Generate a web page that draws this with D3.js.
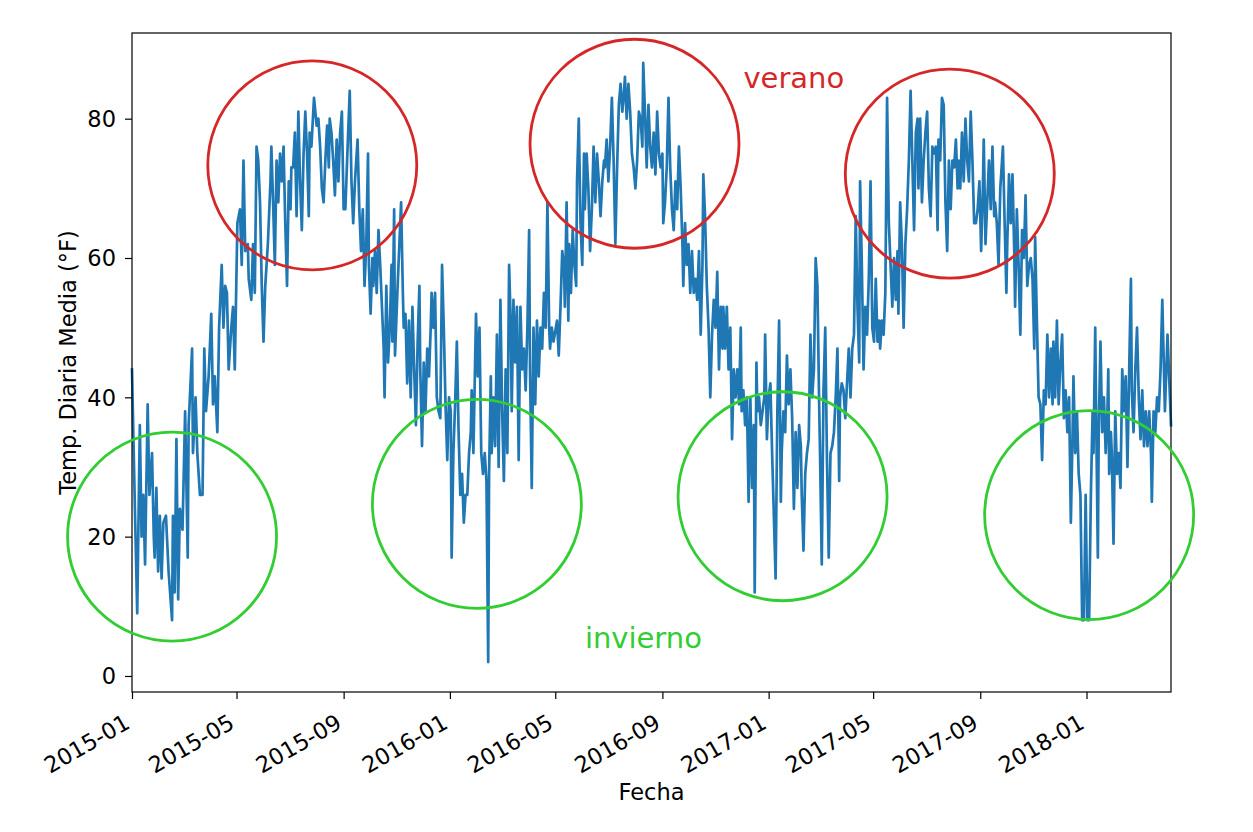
<!DOCTYPE html>
<html>
<head>
<meta charset="utf-8">
<script src="https://cdn.jsdelivr.net/npm/d3@7"></script>
<style>
  html, body { margin: 0; padding: 0; background: #ffffff; }
  svg { display: block; font-family: "DejaVu Sans", sans-serif; }
</style>
</head>
<body>
<svg id="chart" width="1253" height="832"></svg>
<script>
// ---------------- DATA ----------------
const startDate = "2015-01-01";
const endDate = "2018-04-08";
// readings: [days since startDate, mean daily temperature °F]
const tempReadings = [
 [0,44],[3,26],[6,9],[9,36],[11,20],[13,26],[15,16],[18,39],[20,26],[23,32],[25,20],[26,17],[28,27],[30,15],[32,23],[34,14],[36,22],[39,23],[42,15],[46,8],[47,23],[49,12],[51,34],[53,11],[55,24],[58,21],[61,38],[64,17],[65,36],[69,47],[70,32],[73,40],[75,32],[78,26],[81,26],[83,47],[85,38],[88,43],[91,52],[93,39],[95,43],[98,35],[100,50],[103,59],[105,50],[107,56],[109,55],[111,44],[114,50],[116,53],[118,44],[121,65],[124,67],[126,59],[128,74],[130,61],[133,62],[134,57],[137,54],[139,62],[141,55],[143,76],[145,74],[147,68],[149,56],[151,48],[153,56],[156,62],[159,71],[160,76],[162,68],[164,59],[166,74],[168,68],[170,75],[172,71],[174,76],[176,65],[178,56],[180,71],[182,67],[183,73],[185,73],[187,78],[189,66],[191,81],[193,71],[195,64],[197,75],[199,81],[201,75],[203,66],[204,78],[206,76],[209,83],[212,79],[214,80],[216,76],[218,70],[220,68],[222,74],[224,79],[226,73],[227,80],[229,78],[231,74],[233,69],[235,77],[237,71],[239,78],[241,81],[243,67],
 [245,67],[247,74],[250,84],[252,71],[254,65],[256,71],[259,77],[261,67],[263,61],[265,67],[267,56],[269,62],[271,75],[272,59],[274,52],[276,60],[277,56],[279,61],[281,55],[283,64],[285,59],[287,53],[289,47],[290,40],[292,56],[294,45],[296,50],[298,59],[299,48],[301,67],[302,46],[305,56],[307,62],[309,68],[311,55],[312,50],[314,52],[316,42],[318,51],[320,40],[322,53],[324,44],[326,36],[328,48],[330,56],[331,44],[333,33],[335,45],[337,38],[339,47],[341,43],[343,50],[344,55],[346,50],[348,55],[350,40],[352,38],[354,37],[356,59],[358,50],[360,39],[362,31],[364,40],[366,38],[367,17],[369,32],[371,39],[373,48],[375,35],[377,26],[379,29],[381,22],[383,26],[385,26],[387,32],[389,35],[390,41],[392,32],[395,52],[397,43],[399,50],[401,32],[403,29],[405,32],[407,28],[409,2],[410,29],[412,43],[413,32],[415,40],[417,33],[419,49],[421,30],[423,54],[425,38],[427,28],[429,44],[431,32],[433,59],[435,50],[436,38],[438,54],[440,45],[442,53],[444,31],[446,53],[448,44],[450,47],[452,41],[454,50],[456,64],[457,44],[459,27],[461,50],[463,39],[465,51],[467,43],[469,50],[471,47],[473,55],[475,50],[477,68],[479,50],[480,47],[482,50],[484,48],
 [488,51],[490,46],[492,53],[494,61],[496,59],[497,53],[499,68],[501,51],[502,62],[504,55],[506,64],[508,59],[510,56],[511,71],[513,80],[515,65],[517,59],[519,75],[520,67],[522,75],[524,70],[526,61],[528,67],[530,76],[532,68],[534,75],[536,71],[538,66],[540,71],[542,74],[543,73],[545,77],[547,71],[549,76],[551,83],[553,74],[555,62],[557,73],[559,82],[561,85],[563,81],[565,84],[566,86],[568,80],[570,85],[572,81],[574,75],[576,73],[578,70],[580,74],[582,81],[584,80],[586,76],[587,88],[589,81],[591,73],[593,82],[595,76],[597,73],[599,78],[601,72],[603,81],[605,75],[607,73],[609,75],[610,65],[612,68],[614,73],[616,83],[618,73],[620,67],[622,64],[624,71],[626,67],[628,76],[630,70],[632,62],[633,56],[635,65],[637,59],[639,62],[641,55],[643,61],[645,55],[647,57],[649,54],[651,61],[653,49],[655,59],[656,72],[658,66],[660,56],[662,50],[664,40],[666,49],[668,54],[670,50],[672,58],[674,44],[676,53],[678,47],[679,53],[681,47],[683,53],[685,44],[687,50],[689,34],[691,44],[693,40],[695,44],[697,39],[699,50],[700,38],[702,41],[704,36],[706,40],[708,25],[710,40],[712,27],[714,36],[715,12],[717,45],[718,38],[720,40],[722,36],[724,38],[726,40],[727,49],
 [729,34],[731,40],[733,42],[735,32],[737,23],[739,14],[741,38],[743,51],[744,39],[745,25],[746,32],[748,38],[750,35],[752,46],[754,39],[756,44],[758,37],[760,24],[762,35],[764,27],[766,36],[768,33],[769,26],[771,18],[773,29],[775,32],[777,34],[779,49],[781,40],[783,44],[785,60],[787,56],[789,39],[790,32],[792,16],[794,41],[796,50],[798,31],[800,17],[802,32],[804,33],[806,35],[808,40],[810,47],[812,28],[813,40],[815,42],[817,41],[819,37],[821,42],[823,47],[825,40],[827,47],[829,49],[831,66],[833,53],[835,45],[836,71],[838,59],[840,44],[842,53],[844,49],[846,57],[848,71],[850,50],[852,48],[854,57],[856,48],[858,51],[859,47],[861,51],[863,49],[865,55],[867,83],[869,65],[871,59],[873,53],[875,60],[877,54],[879,61],[880,52],[882,68],[884,62],[886,50],[888,62],[890,67],[892,74],[894,84],[896,74],[898,64],[900,78],[902,80],[903,70],[905,80],[907,68],[909,74],[911,78],[913,81],[915,70],[917,66],[919,76],[921,75],[923,76],[925,64],[926,77],[928,74],[930,83],[932,82],[934,68],[936,61],[938,74],[940,67],[942,74],[944,73],[946,77],[948,70],[949,74],[951,70],[953,78],[955,71],[957,80],[959,74],[961,71],[963,81],[965,74],[967,65],
 [969,65],[971,67],[973,71],[975,61],[977,70],[978,77],[980,62],[982,68],[984,74],[986,67],[988,76],[990,66],[991,68],[993,65],[995,59],[997,70],[1000,76],[1002,65],[1004,55],[1005,62],[1007,72],[1009,65],[1011,72],[1013,61],[1014,53],[1016,67],[1018,59],[1020,49],[1022,64],[1024,60],[1026,69],[1028,56],[1030,59],[1032,60],[1034,57],[1036,47],[1037,63],[1039,51],[1041,40],[1043,39],[1045,31],[1047,41],[1049,39],[1051,49],[1053,40],[1055,47],[1057,39],[1058,48],[1060,40],[1062,51],[1064,39],[1066,45],[1068,49],[1070,37],[1072,41],[1074,35],[1076,40],[1078,22],[1080,35],[1081,43],[1083,32],[1085,38],[1087,29],[1089,26],[1091,8],[1093,8],[1095,26],[1097,8],[1099,8],[1101,26],[1103,38],[1104,32],[1106,50],[1107,38],[1109,17],[1110,35],[1112,48],[1114,35],[1116,40],[1118,32],[1120,38],[1121,44],[1122,29],[1124,35],[1125,32],[1127,19],[1129,38],[1131,29],[1133,32],[1135,27],[1137,44],[1139,38],[1141,43],[1143,30],[1145,44],[1147,57],[1148,41],[1150,35],[1152,44],[1154,50],[1156,40],[1158,34],[1160,41],[1162,33],[1164,38],[1166,33],[1168,38],[1170,32],[1171,25],[1173,38],[1175,35],[1177,40],[1179,38],[1181,44],[1183,54],[1186,38],[1189,49],[1193,36]
];
// annotation circles: [days since startDate, centre temperature °F]
const summerCircles = [[207,73.3],[577,76.4],[939,72.1]];
const winterCircles = [[46,20.0],[396,24.7],[747,25.8],[1099,23.1]];
const circleRadiusF = 15;           // radius expressed in °F
const yTicks = [0, 20, 40, 60, 80];
const yDomain = [-2.3, 92.3];
const summerLabel = {text: "verano", day: 702, temp: 84.4};
const winterLabel = {text: "invierno", day: 520, temp: 4.0};
const xAxisTitle = "Fecha";
const yAxisTitle = "Temp. Diaria Media (°F)";

// ---------------- CHART ----------------
const W = 1253, H = 832;
const margin = {left: 132, right: W - 1171, top: 33, bottom: H - 692};
const svg = d3.select("#chart");

const t0 = new Date(startDate + "T00:00:00Z");
const dayToDate = d => new Date(t0.getTime() + d * 86400000);

const x = d3.scaleUtc()
  .domain([t0, new Date(endDate + "T00:00:00Z")])
  .range([margin.left, W - margin.right]);
const y = d3.scaleLinear().domain(yDomain).range([H - margin.bottom, margin.top]);

const lineGen = d3.line()
  .x(d => x(dayToDate(d[0])))
  .y(d => y(d[1]));

svg.append("path")
  .datum(tempReadings)
  .attr("d", lineGen)
  .attr("fill", "none")
  .attr("stroke", "#1f77b4")
  .attr("stroke-width", 2.7)
  .attr("stroke-linejoin", "round")
  .attr("stroke-linecap", "square");

// frame
svg.append("rect")
  .attr("x", margin.left).attr("y", margin.top)
  .attr("width", W - margin.left - margin.right)
  .attr("height", H - margin.top - margin.bottom)
  .attr("fill", "none").attr("stroke", "#000").attr("stroke-width", 1.2);

// axes
const fs = 22.5;
const yAxis = d3.axisLeft(y).tickValues(yTicks).tickSize(7).tickPadding(9);
const gy = svg.append("g").attr("transform", `translate(${margin.left},0)`).call(yAxis);
gy.select(".domain").remove();
gy.selectAll("line").attr("stroke", "#000").attr("stroke-width", 1.2);
gy.selectAll("text").attr("font-size", fs).attr("fill", "#000")
  .attr("font-family", "DejaVu Sans").attr("dy", "0.35em");

const xAxis = d3.axisBottom(x).ticks(d3.utcMonth.every(4)).tickFormat(d3.utcFormat("%Y-%m")).tickSize(7);
const gx = svg.append("g").attr("transform", `translate(0,${H - margin.bottom})`).call(xAxis);
gx.select(".domain").remove();
gx.selectAll("line").attr("stroke", "#000").attr("stroke-width", 1.2);
gx.selectAll("text")
  .attr("font-size", fs).attr("fill", "#000").attr("font-family", "DejaVu Sans")
  .attr("text-anchor", "end")
  .attr("y", 0).attr("dy", 0)
  .attr("transform", "translate(-1,35) rotate(-30)");

// axis titles
svg.append("text")
  .attr("x", (margin.left + W - margin.right) / 2).attr("y", 800)
  .attr("text-anchor", "middle").attr("font-size", fs).attr("fill", "#000")
  .text(xAxisTitle);
svg.append("text")
  .attr("transform", `translate(76,${(margin.top + H - margin.bottom) / 2}) rotate(-90)`)
  .attr("text-anchor", "middle").attr("font-size", fs).attr("fill", "#000")
  .text(yAxisTitle);

// circles
const rPx = Math.abs(y(0) - y(circleRadiusF));
svg.selectAll("circle.summer").data(summerCircles).enter().append("circle")
  .attr("class", "summer")
  .attr("cx", d => x(dayToDate(d[0]))).attr("cy", d => y(d[1])).attr("r", rPx)
  .attr("fill", "none").attr("stroke", "#d62728").attr("stroke-width", 2.8);
svg.selectAll("circle.winter").data(winterCircles).enter().append("circle")
  .attr("class", "winter")
  .attr("cx", d => x(dayToDate(d[0]))).attr("cy", d => y(d[1])).attr("r", rPx)
  .attr("fill", "none").attr("stroke", "#32cd32").attr("stroke-width", 2.8);

// labels
svg.append("text")
  .attr("x", x(dayToDate(summerLabel.day))).attr("y", y(summerLabel.temp))
  .attr("font-size", 29).attr("fill", "#d62728").text(summerLabel.text);
svg.append("text")
  .attr("x", x(dayToDate(winterLabel.day))).attr("y", y(winterLabel.temp))
  .attr("font-size", 29).attr("fill", "#32cd32").text(winterLabel.text);
</script>
</body>
</html>
